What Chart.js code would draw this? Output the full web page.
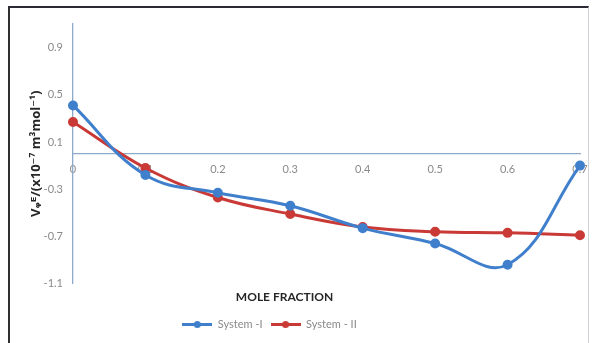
<!DOCTYPE html>
<html>
<head>
<meta charset="utf-8">
<script src="https://cdn.jsdelivr.net/npm/chart.js@4/dist/chart.umd.min.js"></script>
<style>
  html, body { margin: 0; padding: 0; background: #ffffff; }
  #wrap { position: relative; width: 593px; height: 343px; overflow: hidden; }
  #frame {
    position: absolute; left: 8px; top: 6px; width: 581px; height: 345px;
    border-top: 2px solid #2a2a36; border-left: 2px solid #2f2f2f; border-right: 1px solid #cfd3d8;
    box-sizing: border-box;
  }
  #chart { position: absolute; left: 0; top: 0; }
</style>
</head>
<body>
<div id="wrap">
  <div id="frame"></div>
  <canvas id="chart" width="593" height="343"></canvas>
</div>
<script>
// Mole fraction categories and excess volume values for the two systems
const moleFractions = ['0', '0.1', '0.2', '0.3', '0.4', '0.5', '0.6', '0.7'];
const systemI  = [0.41, -0.18, -0.33, -0.44, -0.63, -0.76, -0.94, -0.10];
const systemII = [0.27, -0.12, -0.37, -0.51, -0.62, -0.66, -0.67, -0.69];
const yTickValues = [-1.1, -0.7, -0.3, 0.1, 0.5, 0.9];

const BLUE = '#3f7fcc';
const RED = '#c93a36';
const FONT = 'Lato, "Open Sans", "DejaVu Sans", sans-serif';

// Legend swatch: a short line with a round marker on it
function legendSwatch(color) {
  const c = document.createElement('canvas');
  c.width = 30; c.height = 9;
  const g = c.getContext('2d');
  g.strokeStyle = color; g.lineWidth = 3;
  g.beginPath(); g.moveTo(0, 4.5); g.lineTo(30, 4.5); g.stroke();
  g.fillStyle = color;
  g.beginPath(); g.arc(15, 4.5, 3.5, 0, Math.PI * 2); g.fill();
  return c;
}
const swatches = [legendSwatch(BLUE), legendSwatch(RED)];

// Nudges the bottom title and legend sideways after layout
const shiftBoxes = {
  id: 'shiftBoxes',
  afterLayout(chart, args, opts) {
    if (chart.legend) { chart.legend.left += opts.legend; chart.legend.right += opts.legend; }
    if (chart.titleBlock) { chart.titleBlock.left += opts.title; chart.titleBlock.right += opts.title; }
  }
};

new Chart(document.getElementById('chart'), {
  type: 'line',
  data: {
    labels: moleFractions,
    datasets: [
      {
        label: 'System -I',
        data: systemI,
        borderColor: BLUE, backgroundColor: BLUE,
        borderWidth: 3, pointRadius: 3.5, pointHoverRadius: 3.5,
        tension: 0.4, fill: false
      },
      {
        label: 'System - II',
        data: systemII,
        borderColor: RED, backgroundColor: RED,
        borderWidth: 3, pointRadius: 3.5, pointHoverRadius: 3.5,
        tension: 0.4, fill: false
      }
    ]
  },
  plugins: [shiftBoxes],
  options: {
    responsive: false,
    animation: false,
    events: [],
    layout: { padding: { left: 9, right: 13, top: 24, bottom: 3 } },
    scales: {
      x: {
        type: 'category',
        offset: false,
        position: { y: 0 },
        afterFit: (scale) => { scale.paddingLeft = 0; scale.paddingRight = 0; },
        grid: { display: false, drawTicks: false },
        border: { display: true, color: '#8eaacb', width: 1.3 },
        ticks: { padding: 9, color: '#8a8a8a', font: { family: FONT, size: 11 }, maxRotation: 0, autoSkip: false }
      },
      y: {
        min: -1.1,
        max: 1.1,
        afterBuildTicks: (scale) => { scale.ticks = yTickValues.map(v => ({ value: v })); },
        afterFit: (scale) => { scale.width = 64; },
        grid: { display: false, drawTicks: false },
        border: { display: true, color: '#8eaacb', width: 1.3 },
        ticks: {
          padding: 10, color: '#8a8a8a', font: { family: FONT, size: 11 },
          callback: (v) => String(v)
        },
        title: {
          display: true,
          text: 'Vᵩᴱ/(x10⁻⁷ m³mol⁻¹)',
          color: '#262626',
          font: { family: '"Open Sans", "DejaVu Sans", sans-serif', size: 13, weight: 'bold' },
          padding: { top: 19, bottom: 0 }
        }
      }
    },
    plugins: {
      shiftBoxes: { legend: -25, title: -10 },
      tooltip: { enabled: false },
      title: {
        display: true,
        position: 'bottom',
        weight: 500,
        text: 'MOLE FRACTION',
        color: '#262626',
        font: { family: FONT, size: 12, weight: 'bold' },
        padding: { top: 6, bottom: 7 }
      },
      legend: {
        position: 'bottom',
        labels: {
          usePointStyle: true,
          pointStyleWidth: 30,
          padding: 8,
          color: '#8a8a8a',
          font: { family: FONT, size: 11 },
          generateLabels: (chart) => {
            const items = Chart.defaults.plugins.legend.labels.generateLabels(chart);
            items.forEach((it, i) => { it.pointStyle = swatches[i]; });
            return items;
          }
        }
      }
    }
  }
});
</script>
</body>
</html>
